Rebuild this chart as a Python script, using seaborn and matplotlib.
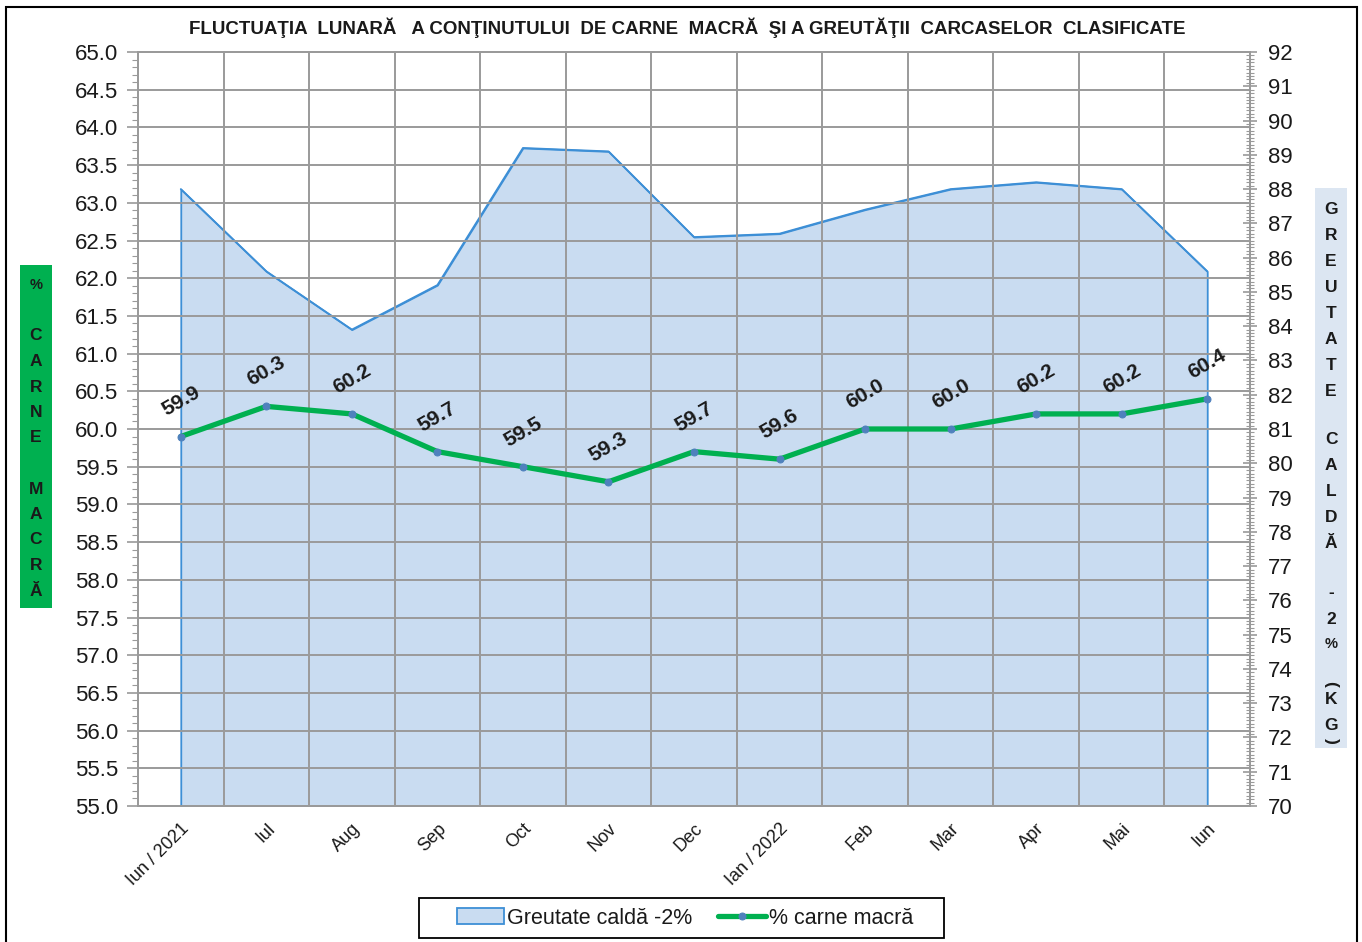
import matplotlib
matplotlib.use("Agg")
import matplotlib.pyplot as plt
import seaborn as sns
import numpy as np
import pandas as pd
from matplotlib.ticker import MultipleLocator, FormatStrFormatter, FixedLocator
from matplotlib.patches import Rectangle

# ---------------- data ----------------
months = ["Iun / 2021", "Iul", "Aug", "Sep", "Oct", "Nov", "Dec",
          "Ian / 2022", "Feb", "Mar", "Apr", "Mai", "Iun"]
carne_macra = [59.9, 60.3, 60.2, 59.7, 59.5, 59.3, 59.7, 59.6, 60.0, 60.0, 60.2, 60.2, 60.4]
greutate_calda = [88.0, 85.6, 83.9, 85.2, 89.2, 89.1, 86.6, 86.7, 87.4, 88.0, 88.2, 88.0, 85.6]

title = "FLUCTUAŢIA  LUNARĂ   A CONŢINUTULUI  DE CARNE  MACRĂ  ŞI A GREUTĂŢII  CARCASELOR  CLASIFICATE"
left_label = ["%", "", "C", "A", "R", "N", "E", "", "M", "A", "C", "R", "Ă"]
right_label = ["G", "R", "E", "U", "T", "A", "T", "E", "C", "A", "L", "D", "Ă",
               "-", "2", "%", "(", "K", "G", ")"]
label_area = "Greutate caldă -2%"
label_line = "% carne macră"

df = pd.DataFrame({"x": np.arange(len(months)), "month": months,
                   "carne": carne_macra, "greutate": greutate_calda})

# ---------------- style ----------------
sns.set_style("white")
plt.rcParams["font.family"] = ["Liberation Sans", "DejaVu Sans"]

W, H = 1362, 942
fig = plt.figure(figsize=(W / 100, H / 100), dpi=100)
L, R, T, B = 138, 1250, 52, 806
ax = fig.add_axes([L / W, 1 - B / H, (R - L) / W, (B - T) / H])

GRID = "#9a9a9a"
FILL = "#c9dcf1"
EDGE = "#3d8fd6"
GREEN = "#00b050"
TXT = "#1a1a1a"

# area (right axis)
ax.fill_between(df["x"], 70, df["greutate"], facecolor=FILL, edgecolor=EDGE,
                linewidth=1.3, label=label_area, zorder=1)
sns.lineplot(data=df, x="x", y="greutate", ax=ax, color=EDGE, linewidth=1.3,
             legend=False, zorder=2)
ax.set_ylim(70, 92)
ax.set_xlim(-0.5, len(months) - 0.5)
ax.set_xlabel("")
ax.set_ylabel("")

# line (left axis)
ax2 = ax.twinx()
sns.lineplot(data=df, x="x", y="carne", ax=ax2, color=GREEN, linewidth=3.8,
             marker="o", markersize=5, markerfacecolor="#4f81bd",
             markeredgecolor="#4f81bd", label=label_line, legend=False, zorder=3)
ax2.set_ylim(55, 65)
ax2.set_ylabel("")

# axis placement (after twinx)
ax.yaxis.tick_right()
ax.yaxis.set_label_position("right")
ax2.yaxis.tick_left()
ax2.yaxis.set_label_position("left")

ax.yaxis.set_major_locator(MultipleLocator(1))
ax.yaxis.set_minor_locator(MultipleLocator(0.1))
ax.xaxis.set_major_locator(FixedLocator(df["x"].tolist()))
ax.set_xticklabels(months, rotation=45, ha="right", rotation_mode="anchor",
                   fontsize=13, color=TXT)
ax.xaxis.set_minor_locator(FixedLocator(list(np.arange(-0.5, len(months), 1.0))))
ax.tick_params(axis="x", which="major", length=0, pad=10)
ax.tick_params(axis="x", which="minor", length=7, direction="out", color=GRID, width=1.2)
ax.tick_params(axis="y", which="both", left=False, right=True, labelleft=False, labelright=True)
ax.tick_params(axis="y", which="major", direction="inout", length=10, color=GRID,
               width=1.2, labelsize=16, labelcolor=TXT, pad=8)
ax.tick_params(axis="y", which="minor", direction="inout", length=6, color=GRID, width=0.8)
ax.set_axisbelow(False)
ax.grid(False)
ax.grid(which="minor", axis="x", color=GRID, linewidth=1.4)
for s in ax.spines.values():
    s.set_color(GRID)
    s.set_linewidth(1.4)

ax2.yaxis.set_major_locator(MultipleLocator(0.5))
ax2.yaxis.set_minor_locator(MultipleLocator(0.1))
ax2.yaxis.set_major_formatter(FormatStrFormatter("%.1f"))
ax2.tick_params(axis="y", which="both", left=True, right=False, labelleft=True, labelright=False)
ax2.tick_params(axis="y", which="major", direction="out", length=8, color=GRID,
                width=1.2, labelsize=16, labelcolor=TXT, pad=6)
ax2.tick_params(axis="y", which="minor", direction="out", length=4, color=GRID, width=0.8)
ax2.grid(which="major", axis="y", color=GRID, linewidth=1.4)
for s in ax2.spines.values():
    s.set_color(GRID)
    s.set_linewidth(1.4)

for xi, v in zip(df["x"], df["carne"]):
    ax2.annotate(f"{v:.1f}", (xi, v), xytext=(0, 35), textcoords="offset pixels",
                 ha="center", va="center", rotation=30, fontsize=15,
                 fontweight="bold", color=TXT, zorder=5)

# title
fig.text(687 / W, 1 - 28 / H, title, ha="center", va="center", fontsize=13.5,
         fontweight="bold", color=TXT,
         family=["Liberation Sans Narrow", "Liberation Sans", "DejaVu Sans"])

# side labels
fig.patches.append(Rectangle((20 / W, 1 - 608 / H), 32 / W, 343 / H,
                             transform=fig.transFigure, facecolor=GREEN,
                             edgecolor="none", zorder=0))
for i, ch in enumerate(left_label):
    if ch:
        fig.text(36 / W, 1 - (285 + 25.5 * i) / H, ch, ha="center", va="center",
                 fontsize=12.5 if ch != "%" else 10.5, fontweight="bold", color=TXT)

fig.patches.append(Rectangle((1315 / W, 1 - 748 / H), 32 / W, 560 / H,
                             transform=fig.transFigure, facecolor="#dce6f2",
                             edgecolor="none", zorder=0))
ry = [210, 236, 262, 288, 313, 340, 365, 391, 440, 466, 492, 517, 544,
      593, 619, 644, 684, 700, 725, 741]
for ch, yy in zip(right_label, ry):
    fig.text(1331 / W, 1 - yy / H, ch, ha="center", va="center",
             fontsize=12.5 if ch not in "%" else 10.5, fontweight="bold", color=TXT,
             rotation=-90 if ch in "()" else 0)

# figure border
fig.patches.append(Rectangle((6 / W, -0.02), (1357 - 6) / W, 1.02 - 7 / H,
                             transform=fig.transFigure, facecolor="none",
                             edgecolor="#000000", linewidth=1.5, zorder=10))

# legend
h1, l1 = ax.get_legend_handles_labels()
h2, l2 = ax2.get_legend_handles_labels()
handles, labels = [], []
for h, l in zip(h1 + h2, l1 + l2):
    if l in (label_area, label_line) and l not in labels:
        handles.append(h)
        labels.append(l)
leg = fig.legend(handles, labels, loc="center", bbox_to_anchor=(685 / W, 1 - 918 / H),
                 ncol=2, fontsize=15.5, frameon=False, handlelength=2.2,
                 handletextpad=0.15, columnspacing=1.2, borderpad=0.35, borderaxespad=0)
for t in leg.get_texts():
    t.set_color(TXT)
fig.patches.append(Rectangle((419 / W, 1 - 938 / H), (944 - 419) / W, 40 / H,
                             transform=fig.transFigure, facecolor="none",
                             edgecolor="#000000", linewidth=1.3, zorder=10))

fig.savefig("out.png", dpi=100, facecolor="white")
